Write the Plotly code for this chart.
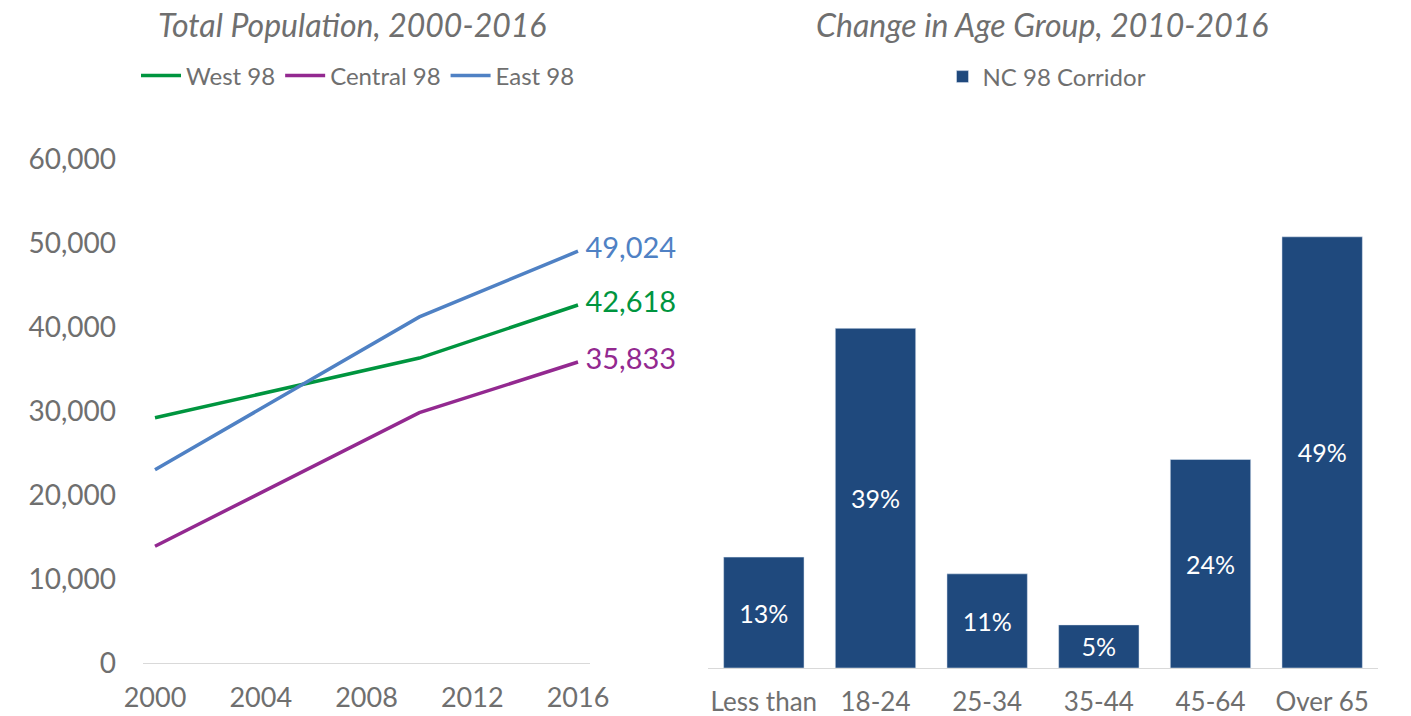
import plotly.graph_objects as go

# ---- data ----
years = [2000, 2010, 2016]
west_98 = [29200, 36300, 42618]
central_98 = [13900, 29800, 35833]
east_98 = [23000, 41200, 49024]
x_ticks = [2000, 2004, 2008, 2012, 2016]
y_ticks = [0, 10000, 20000, 30000, 40000, 50000, 60000]

age_groups = ["Less than", "18-24", "25-34", "35-44", "45-64", "Over 65"]
age_change_pct = [12.6, 38.6, 10.7, 4.9, 23.7, 49.0]

FONT = "Lato"
GRAY = "#6f6f6f"
GREEN = "#00953f"
PURPLE = "#932990"
BLUE = "#4f81c4"
NAVY = "#1f497d"

W, H = 1411, 716

fig = go.Figure()

def end_labels(vals):
    return [""] * (len(vals) - 1) + [f" {vals[-1]:,}"]

for name, vals, col in [("West 98", west_98, GREEN),
                        ("Central 98", central_98, PURPLE),
                        ("East 98", east_98, BLUE)]:
    fig.add_trace(go.Scatter(
        x=years, y=vals, name=name, mode="lines+text",
        line=dict(color=col, width=3.5),
        text=end_labels(vals), textposition="middle right",
        textfont=dict(family=FONT, size=29, color=col),
        cliponaxis=False, xaxis="x", yaxis="y", legend="legend",
        hoverinfo="skip",
    ))

fig.add_trace(go.Bar(
    x=age_groups, y=age_change_pct, name="NC 98 Corridor",
    marker=dict(color=NAVY), texttemplate="%{y:.0f}%",
    textposition="inside", insidetextanchor="middle",
    textfont=dict(family=FONT, size=25, color="white"),
    xaxis="x2", yaxis="y2", legend="legend2", showlegend=True,
))

def px_x(p):
    return p / W

def px_y(p):
    return 1 - p / H

fig.update_layout(
    width=W, height=H,
    margin=dict(l=0, r=0, t=0, b=0, autoexpand=False),
    paper_bgcolor="white", plot_bgcolor="white",
    font=dict(family=FONT, color=GRAY),
    bargap=0.28,
    uniformtext=dict(minsize=10, mode="show"),
    xaxis=dict(
        domain=[px_x(143), px_x(590)],
        range=[1999.546, 2016.454],
        tickvals=x_ticks, ticktext=[str(t) for t in x_ticks],
        tickfont=dict(size=27, color=GRAY),
        showgrid=False, zeroline=False,
        showline=False, ticks="", ticklabelstandoff=16,
        anchor="y", automargin=False,
    ),
    yaxis=dict(
        domain=[px_y(663), px_y(159)],
        range=[0, 60000],
        tickvals=y_ticks, tickformat=",d",
        tickfont=dict(size=28, color=GRAY),
        showgrid=False, zeroline=True, zerolinecolor="#d9d9d9", zerolinewidth=1.3,
        showline=False, ticks="", ticklabelstandoff=26,
        anchor="x", automargin=False,
    ),
    xaxis2=dict(
        domain=[px_x(708), px_x(1378)],
        tickfont=dict(size=26, color=GRAY),
        showgrid=False, zeroline=False,
        showline=True, linecolor="#d9d9d9", linewidth=1.3, ticks="",
        ticklabelstandoff=11,
        anchor="y2", automargin=False,
    ),
    yaxis2=dict(
        domain=[px_y(668), px_y(184)],
        range=[0, 55],
        visible=False,
        anchor="x2", automargin=False,
    ),
    legend=dict(
        orientation="h", x=px_x(358), xanchor="center",
        y=px_y(76), yanchor="middle",
        font=dict(family=FONT, size=24, color=GRAY),
        bgcolor="rgba(0,0,0,0)", itemwidth=40,
    ),
    legend2=dict(
        orientation="h", x=px_x(1047), xanchor="center",
        y=px_y(77), yanchor="middle",
        font=dict(family=FONT, size=24, color=GRAY),
        bgcolor="rgba(0,0,0,0)",
    ),
    annotations=[
        dict(text="<i>Total Population, 2000-2016</i>", x=px_x(352), y=px_y(25),
             xref="paper", yref="paper", xanchor="center", yanchor="middle",
             showarrow=False, font=dict(family=FONT, size=32, color=GRAY)),
        dict(text="<i>Change in Age Group, 2010-2016</i>", x=px_x(1042), y=px_y(25),
             xref="paper", yref="paper", xanchor="center", yanchor="middle",
             showarrow=False, font=dict(family=FONT, size=32, color=GRAY)),
    ],
)

fig.write_html(
    "out.html",
    config={"displayModeBar": False},
    post_script="document.body.style.margin='0';document.body.style.overflow='hidden';",
)
